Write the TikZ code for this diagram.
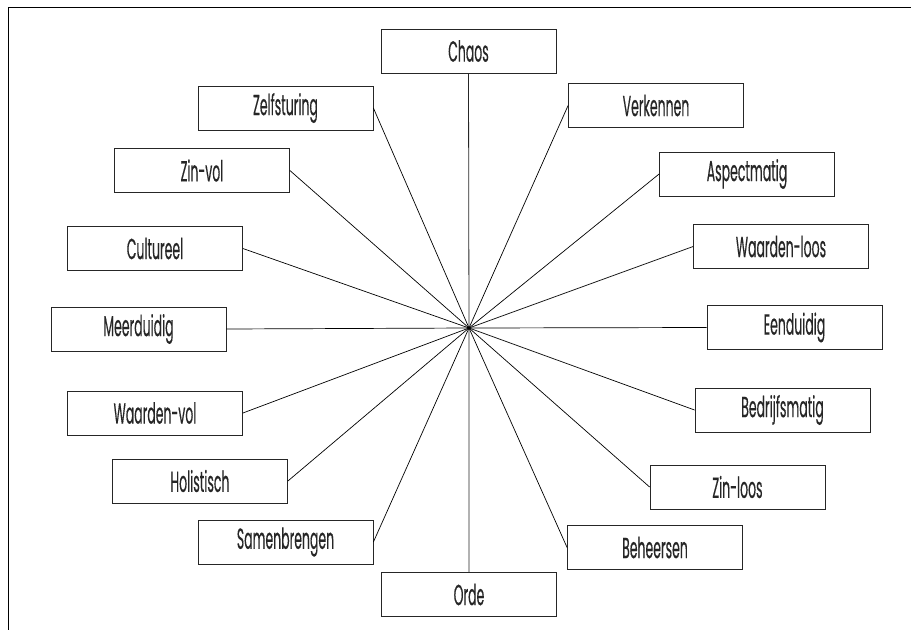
\documentclass[tikz,border=0pt]{standalone}
\usepackage{fontspec}
\setmainfont{Poppins}[FakeStretch=0.43, FakeBold=0.3]
\usepackage{tikz}
\tikzset{kader/.style={draw=black!85, line width=0.8pt, minimum width=175pt, minimum height=44pt, inner sep=0pt, font=\fontsize{29}{32}\selectfont, text=black!85}}

\begin{document}
\begin{tikzpicture}[x=1pt, y=-1pt]
		%%%%% START %%%%%
		
		\useasboundingbox (0, 0) rectangle (911, 630);
		\draw[line width=1pt] (911, 7) -- (8, 7) -- (8, 630);
		
		\coordinate (mid) at (469, 328);
		
		\node[kader] (chaos) at (468.5, 51) {Chaos};
		\node[kader] (orde) at (469, 594.5) {Orde};
		
		\node[kader] (zelf) at (285.5, 108) {Zelfsturing};
		\node[kader] (zinvol) at (202, 170.5) {Zin-vol};
		\node[kader] (cult) at (155, 248.5) {Cultureel};
		\node[kader] (meer) at (138.5, 329) {Meerduidig};
		\node[kader] (wvol) at (155, 413) {Waarden-vol};
		\node[kader] (holi) at (200, 481) {Holistisch};
		\node[kader] (samen) at (285.5, 542) {Samenbrengen};
		
		\node[kader] (verk) at (656, 105.5) {Verkennen};
		\node[kader] (aspect) at (747, 174) {Aspectmatig};
		\node[kader] (wloos) at (781, 246.5) {Waarden-loos};
		\node[kader] (een) at (794.5, 327.5) {Eenduidig};
		\node[kader] (bedr) at (782.5, 410) {Bedrijfsmatig};
		\node[kader] (zinloos) at (737.5, 487) {Zin-loos};
		\node[kader] (beheer) at (655, 547.5) {Beheersen};
		
		\draw[line width=0.8pt, black!85] (chaos.south) -- (mid) -- (orde.north);
		
		\draw[line width=0.7pt] (zelf.east) -- (mid);
		\draw[line width=0.7pt] (zinvol.east) -- (mid);
		\draw[line width=0.7pt] (cult.east) -- (mid);
		\draw[line width=0.7pt] (meer.east) -- (mid);
		\draw[line width=0.7pt] (wvol.east) -- (mid);
		\draw[line width=0.7pt] (holi.east) -- (mid);
		\draw[line width=0.7pt] (samen.east) -- (mid);
		
		\draw[line width=0.7pt] (verk.west) -- (mid);
		\draw[line width=0.7pt] (aspect.west) -- (mid);
		\draw[line width=0.7pt] (wloos.west) -- (mid);
		\draw[line width=0.7pt] (een.west) -- (mid);
		\draw[line width=0.7pt] (bedr.west) -- (mid);
		\draw[line width=0.7pt] (zinloos.west) -- (mid);
		\draw[line width=0.7pt] (beheer.west) -- (mid);
		
		%%%%% END %%%%%
	\end{tikzpicture}
\end{document}
